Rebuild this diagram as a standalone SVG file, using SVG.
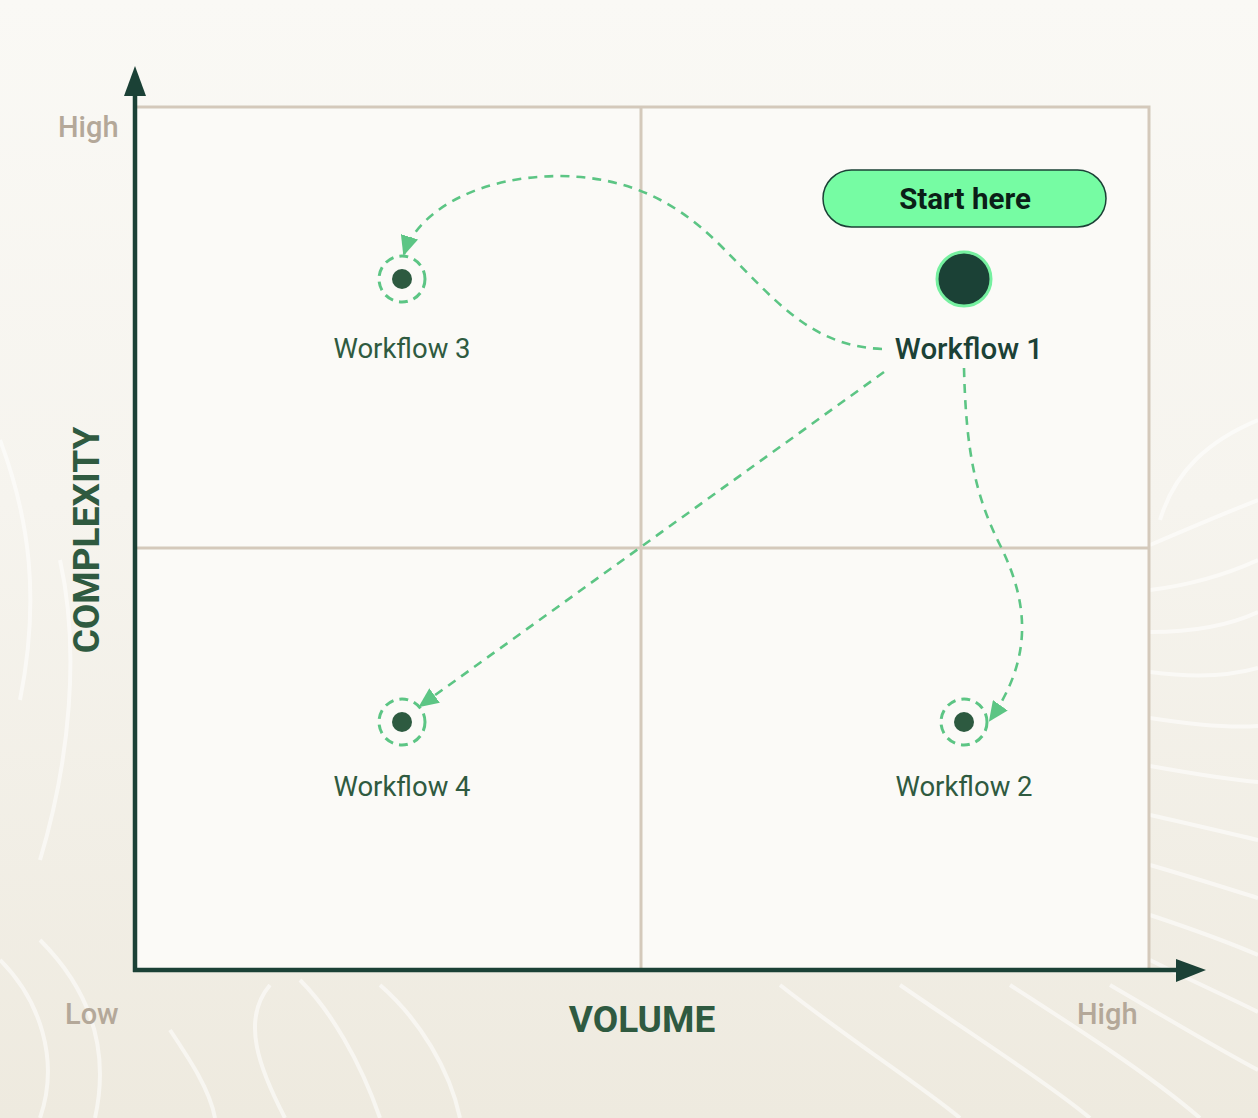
<svg xmlns="http://www.w3.org/2000/svg" width="1258" height="1118" viewBox="0 0 1258 1118">
<defs>
<linearGradient id="bg" x1="0" y1="0" x2="0" y2="1">
<stop offset="0" stop-color="#faf9f5"/>
<stop offset="0.45" stop-color="#f6f4ee"/>
<stop offset="1" stop-color="#eeeadf"/>
</linearGradient>
<marker id="ah" markerUnits="userSpaceOnUse" markerWidth="20" markerHeight="18" viewBox="0 0 20 18" refX="18" refY="9" orient="auto">
<path d="M0,0 L20,9 L0,18 Z" fill="#5cc584"/>
</marker>
<style>
.contour{fill:none;stroke:#ffffff;stroke-width:4;opacity:0.55}
.grid{fill:none;stroke:#d4c9bb;stroke-width:3}
.axis{stroke:#1b4136;stroke-width:4.5;fill:none}
.ahead{fill:#1b4136}
.conn{fill:none;stroke:#5cc584;stroke-width:2.6;stroke-dasharray:9 7}
.ring{fill:none;stroke:#5cc584;stroke-width:3;stroke-dasharray:9 6}
.dot{fill:#2d5a40}
.lbl{font-family:Roboto,"Liberation Sans",sans-serif;font-size:27.5px;fill:#2f5a40;text-anchor:middle}
.tick{font-family:Roboto,"Liberation Sans",sans-serif;font-size:29px;fill:#b4a899;font-weight:500}
.title{font-family:Roboto,"Liberation Sans",sans-serif;font-size:37px;fill:#2f5a40;font-weight:700;text-anchor:middle}
</style>
</defs>
<rect width="1258" height="1118" fill="url(#bg)"/>
<g id="background-contours">
<path class="contour" d="M1258,420 C1210,440 1175,470 1160,520"/>
<path class="contour" d="M1150,545 C1185,530 1220,515 1258,500"/>
<path class="contour" d="M1150,590 C1190,585 1225,575 1258,560"/>
<path class="contour" d="M1150,632 C1195,632 1230,625 1258,612"/>
<path class="contour" d="M1150,672 C1195,678 1230,676 1258,668"/>
<path class="contour" d="M1150,718 C1195,725 1232,728 1258,726"/>
<path class="contour" d="M1150,766 C1195,774 1232,780 1258,782"/>
<path class="contour" d="M1150,815 C1195,825 1232,834 1258,840"/>
<path class="contour" d="M1150,865 C1195,878 1232,890 1258,898"/>
<path class="contour" d="M1150,915 C1195,930 1235,945 1258,955"/>
<path class="contour" d="M1150,960 C1200,985 1235,1000 1258,1012"/>
<path class="contour" d="M1110,985 C1170,1020 1220,1050 1258,1070"/>
<path class="contour" d="M1010,985 C1080,1030 1150,1075 1200,1118"/>
<path class="contour" d="M900,985 C980,1040 1050,1085 1090,1118"/>
<path class="contour" d="M780,985 C850,1040 920,1085 960,1118"/>
<path class="contour" d="M270,985 C240,1020 260,1070 285,1118"/>
<path class="contour" d="M300,980 C330,1010 360,1060 380,1118"/>
<path class="contour" d="M380,985 C420,1020 450,1070 460,1118"/>
<path class="contour" d="M40,940 C90,990 110,1050 95,1118"/>
<path class="contour" d="M0,960 C40,1000 60,1060 40,1118"/>
<path class="contour" d="M170,1030 C190,1060 210,1090 215,1118"/>
<path class="contour" d="M0,440 C30,520 40,600 20,700" opacity="0.3"/>
<path class="contour" d="M60,560 C80,650 70,760 40,860" opacity="0.3"/>
</g>
<g id="plot-area">
<rect x="135" y="107" width="1014" height="863" fill="#fbfaf7" stroke="#d4c9bb" stroke-width="3"/>
<line class="grid" x1="641" y1="107" x2="641" y2="970"/>
<line class="grid" x1="135" y1="548" x2="1149" y2="548"/>
</g>
<g id="axes">
<line class="axis" x1="135" y1="972" x2="135" y2="92"/>
<path class="ahead" d="M135,66 L146,96 L124,96 Z"/>
<line class="axis" x1="133" y1="970" x2="1180" y2="970"/>
<path class="ahead" d="M1206,970 L1176,959 L1176,982 Z"/>
<text class="tick" x="58" y="137">High</text>
<text class="tick" x="65" y="1024">Low</text>
<text class="tick" x="1077" y="1024">High</text>
<text class="title" x="642" y="1032">VOLUME</text>
<text class="title" transform="translate(99,540) rotate(-90)">COMPLEXITY</text>
</g>
<g id="connectors">
<path class="conn" d="M882,349 C810,346 775,300 720,245 C670,195 620,177 560,176 C480,176 418,210 404,254" marker-end="url(#ah)"/>
<path class="conn" d="M884,372 L420,706" marker-end="url(#ah)"/>
<path class="conn" d="M964,368 C966,450 975,495 1000,545 C1030,605 1032,660 990,720" marker-end="url(#ah)"/>
</g>
<g id="start-here">
<rect x="823" y="170" width="283" height="57" rx="28.5" fill="#76fca3" stroke="#1b4136" stroke-width="1.5"/>
<text x="965" y="209" font-family="Roboto,'Liberation Sans',sans-serif" font-size="29.5" font-weight="700" fill="#0b1f17" text-anchor="middle">Start here</text>
</g>
<g id="workflow-1">
<circle cx="964" cy="279" r="27" fill="#1b4136" stroke="#76f0a0" stroke-width="3"/>
<text x="969" y="359" font-family="Roboto,'Liberation Sans',sans-serif" font-size="29.5" font-weight="500" fill="#1b4136" text-anchor="middle">Workflow 1</text>
</g>
<g id="workflow-3">
<circle class="ring" cx="402" cy="279" r="23"/>
<circle class="dot" cx="402" cy="279" r="10"/>
<text class="lbl" x="402" y="358">Workflow 3</text>
</g>
<g id="workflow-4">
<circle class="ring" cx="402" cy="722" r="23"/>
<circle class="dot" cx="402" cy="722" r="10"/>
<text class="lbl" x="402" y="796">Workflow 4</text>
</g>
<g id="workflow-2">
<circle class="ring" cx="964" cy="722" r="23"/>
<circle class="dot" cx="964" cy="722" r="10"/>
<text class="lbl" x="964" y="796">Workflow 2</text>
</g>
</svg>
